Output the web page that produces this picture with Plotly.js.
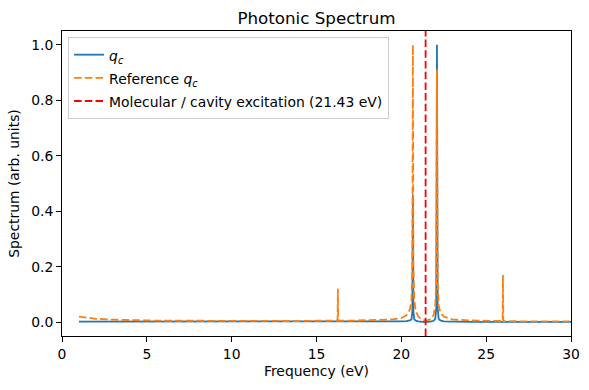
<!DOCTYPE html>
<html>
<head>
<meta charset="utf-8">
<script src="https://cdn.plot.ly/plotly-3.0.1.min.js"></script>
<style>html,body{margin:0;padding:0;background:#fff}#chart{width:589px;height:390px}</style>
</head>
<body>
<div id="chart"></div>
<script>
// Frequencies (eV)
const freq = [1, 2, 3, 4, 5, 6, 8, 10, 12, 14, 15, 16, 16.24, 16.26, 16.28, 17, 18, 19, 19.5, 20, 20.3, 20.5, 20.6, 20.65, 20.68, 20.71, 20.76, 20.85, 21, 21.2, 21.43, 21.7, 21.9, 22.0, 22.06, 22.1, 22.14, 22.2, 22.3, 22.5, 23, 24, 25, 25.97, 25.99, 26.01, 27, 28, 29, 30];
// Computed q_c spectrum (blue)
const qc = [0.002, 0.002, 0.001, 0.001, 0.001, 0.001, 0.001, 0.001, 0.001, 0.001, 0.001, 0.001, 0.001, 0.001, 0.001, 0.001, 0.001, 0.002, 0.002, 0.003, 0.004, 0.006, 0.01, 0.04, 0.46, 0.04, 0.01, 0.005, 0.003, 0.001, 0.0, 0.002, 0.005, 0.012, 0.05, 1.0, 0.05, 0.012, 0.006, 0.003, 0.002, 0.001, 0.001, 0.001, 0.001, 0.001, 0.001, 0.001, 0.001, 0.001];
// Reference q_c spectrum (orange)
const refQc = [0.02, 0.012, 0.009, 0.007, 0.006, 0.005, 0.005, 0.004, 0.004, 0.004, 0.005, 0.005, 0.005, 0.12, 0.005, 0.005, 0.006, 0.008, 0.01, 0.015, 0.025, 0.045, 0.08, 0.2, 1.0, 0.2, 0.08, 0.04, 0.02, 0.01, 0.005, 0.01, 0.025, 0.06, 0.15, 0.91, 0.15, 0.06, 0.035, 0.02, 0.01, 0.006, 0.005, 0.004, 0.17, 0.004, 0.003, 0.003, 0.003, 0.003];
const excitation = 21.43;
const yLimits = [-0.05, 1.05];
const xTicks = [0, 5, 10, 15, 20, 25, 30];
const yTicks = [0.0, 0.2, 0.4, 0.6, 0.8, 1.0];

const FS = 13.9;
const lg = s => '<span style="font-size:' + FS + 'px">' + s + '</span>';
const dashPat = "7.5px,3.2px";
const traces = [
  {x: freq, y: qc, type: 'scatter', mode: 'lines', name: lg('<i>q</i><sub><i>c</i></sub>'),
   line: {color: '#1f77b4', width: 1.8}},
  {x: freq, y: refQc, type: 'scatter', mode: 'lines', name: lg('Reference <i>q</i><sub><i>c</i></sub>'),
   line: {color: '#ff7f0e', width: 1.8, dash: dashPat}},
  {x: [excitation, excitation], y: yLimits, type: 'scatter', mode: 'lines',
   name: lg('Molecular / cavity excitation (' + excitation.toFixed(2) + ' eV)'),
   line: {color: 'red', width: 1.8, dash: dashPat}}
];

const axisCommon = {
  showline: true, linecolor: 'black', linewidth: 1, mirror: true,
  ticks: 'outside', ticklen: 5, tickwidth: 1, tickcolor: 'black',
  showgrid: false, zeroline: false,
  tickfont: {family: 'DejaVu Sans', size: FS, color: 'black'}
};

const layout = {
  width: 589, height: 390,
  margin: {l: 62, r: 18, t: 31, b: 54},
  paper_bgcolor: 'white', plot_bgcolor: 'white',
  font: {family: 'DejaVu Sans', size: FS, color: 'black'},
  title: {text: 'Photonic Spectrum', font: {family: 'DejaVu Sans', size: 16.7, color: 'black'},
          x: 0.5, xref: 'paper', xanchor: 'center', y: 1, yref: 'paper', yanchor: 'bottom', pad: {b: 7}},
  xaxis: Object.assign({}, axisCommon, {range: [0, 30], tickvals: xTicks, ticktext: xTicks.map(String),
          title: {text: 'Frequency (eV)', font: {family: 'DejaVu Sans', size: FS}, standoff: 5}}),
  yaxis: Object.assign({}, axisCommon, {range: yLimits, tickvals: yTicks, ticktext: yTicks.map(v => v.toFixed(1)),
          title: {text: 'Spectrum (arb. units)', font: {family: 'DejaVu Sans', size: FS}, standoff: 8}}),
  showlegend: true,
  legend: {x: 0.012, y: 0.98, xanchor: 'left', yanchor: 'top',
           bgcolor: 'rgba(255,255,255,0.8)', bordercolor: '#cccccc', borderwidth: 1,
           font: {family: 'DejaVu Sans', size: 15.5, color: 'black'}, itemwidth: 30, tracegroupgap: 0}
};

Plotly.newPlot('chart', traces, layout, {displayModeBar: false, staticPlot: true});
</script>
</body>
</html>
